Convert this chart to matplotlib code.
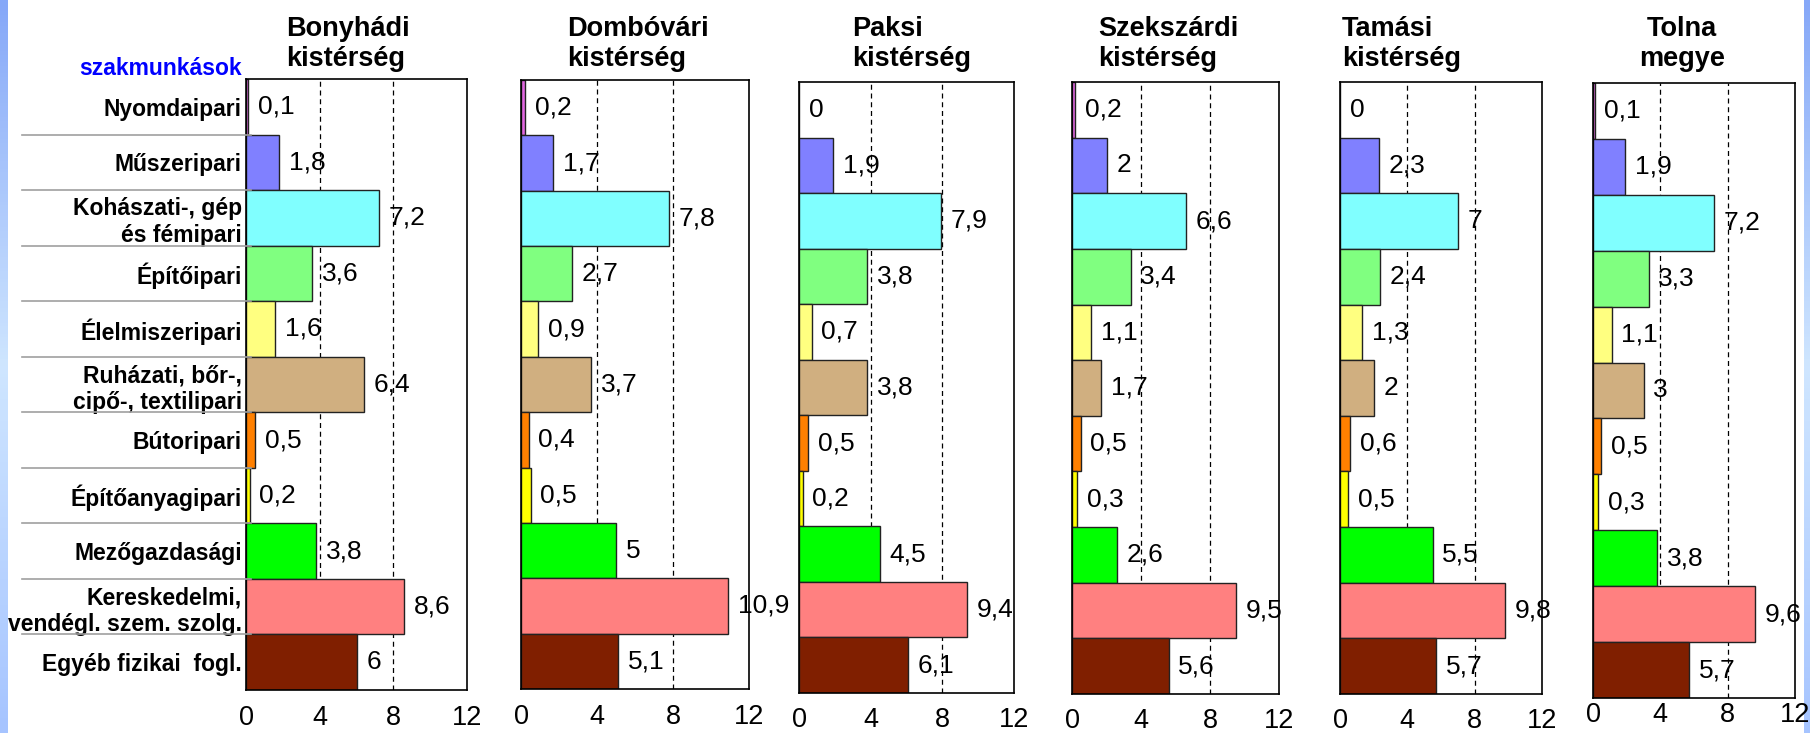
import numpy as np
import matplotlib
matplotlib.use('Agg')
import matplotlib.pyplot as plt
import matplotlib.transforms as mtransforms
from matplotlib.lines import Line2D
from matplotlib.colors import LinearSegmentedColormap

plt.rcParams['font.family'] = ['Liberation Sans', 'DejaVu Sans']

# adatok
categories = ['Nyomdaipari', 'Műszeripari', 'Kohászati-, gép\nés fémipari', 'Építőipari',
              'Élelmiszeripari', 'Ruházati, bőr-,\ncipő-, textilipari', 'Bútoripari',
              'Építőanyagipari', 'Mezőgazdasági', 'Kereskedelmi,\nvendégl. szem. szolg.',
              'Egyéb fizikai  fogl.']
bar_colors = ['#E066E0', '#8080FF', '#80FFFF', '#80FF80', '#FFFF80', '#D0AF80',
              '#FF8000', '#FFFF00', '#00FF00', '#FF8080', '#801F00']

titles = ['Bonyhádi\nkistérség', 'Dombóvári\nkistérség', 'Paksi\nkistérség',
          'Szekszárdi\nkistérség', 'Tamási\nkistérség', 'Tolna\nmegye']
bonyhad = [0.1, 1.8, 7.2, 3.6, 1.6, 6.4, 0.5, 0.2, 3.8, 8.6, 6]
dombovar = [0.2, 1.7, 7.8, 2.7, 0.9, 3.7, 0.4, 0.5, 5, 10.9, 5.1]
paks = [0, 1.9, 7.9, 3.8, 0.7, 3.8, 0.5, 0.2, 4.5, 9.4, 6.1]
szekszard = [0.2, 2, 6.6, 3.4, 1.1, 1.7, 0.5, 0.3, 2.6, 9.5, 5.6]
tamasi = [0, 2.3, 7, 2.4, 1.3, 2, 0.6, 0.5, 5.5, 9.8, 5.7]
tolna = [0.1, 1.9, 7.2, 3.3, 1.1, 3, 0.5, 0.3, 3.8, 9.6, 5.7]
series = [bonyhad, dombovar, paks, szekszard, tamasi, tolna]
xticks = [0, 4, 8, 12]

W, H = 1810, 733
# panel dobozok pixelben: bal, jobb, felso, also
boxes = [(246, 467, 79, 690), (521, 749, 80, 689), (799, 1014, 82, 693),
         (1072, 1279, 82, 694), (1340, 1542, 82, 694), (1593, 1795, 83, 698)]
title_x = [(286, 'left'), (567, 'left'), (852, 'left'), (1098, 'left'),
           (1342, 'left'), (1682, 'center')]
tick_pad = [11, 11, 10, 10, 10, 3]

fig = plt.figure(figsize=(W / 100, H / 100), dpi=100)
fig.patch.set_facecolor('white')

# kek savok a szeleken
grad = LinearSegmentedColormap.from_list('g', ['#86A8F8', '#CFE6FF', '#A6C4FF'])
for x0, w in [(0, 7), (1804, 6)]:
    bax = fig.add_axes([x0 / W, 0, w / W, 1])
    bax.imshow(np.linspace(0, 1, 200).reshape(-1, 1), aspect='auto', cmap=grad)
    bax.axis('off')

y = np.arange(len(categories))
axes = []
for i, (vals, (l, r, t, b)) in enumerate(zip(series, boxes)):
    ax = fig.add_axes([l / W, (H - b) / H, (r - l) / W, (b - t) / H])
    axes.append(ax)
    for xv in (4, 8):
        ax.axvline(xv, color='black', lw=0.9, ls=(0, (4, 3)), zorder=0)
    ax.barh(y, vals, height=1.0, color=bar_colors, edgecolor='#222222', lw=1, zorder=2)
    for yi, v in zip(y, vals):
        ax.annotate(f'{v:g}'.replace('.', ','), (v, yi), xytext=(7, 0),
                    textcoords='offset points', va='center', ha='left',
                    fontsize=19, zorder=3)
    ax.set_xlim(0, 12)
    ax.set_ylim(len(categories) - 0.5, -0.5)
    ax.set_xticks(xticks)
    ax.set_xticklabels([str(t) for t in xticks], fontsize=19.5)
    ax.tick_params(axis='x', length=0, pad=tick_pad[i])
    for s in ax.spines.values():
        s.set_color('black')
        s.set_linewidth(1.2)
    if i == 0:
        ax.set_yticks(y)
        ax.set_yticklabels(categories, fontsize=16.5, fontweight='bold')
        ax.tick_params(axis='y', length=0, pad=3)
    else:
        ax.set_yticks([])
    tx, ha = title_x[i]
    fig.text(tx / W, 1 - 16 / H, titles[i], ha=ha, va='top', fontsize=19.5,
             fontweight='bold', multialignment='center' if ha == 'center' else 'left')

# elvalaszto vonalak a kategoriak kozott
ax0 = axes[0]
tr = mtransforms.blended_transform_factory(fig.transFigure, ax0.transData)
for k in range(len(categories) - 1):
    fig.add_artist(Line2D([22 / W, 251 / W], [k + 0.5, k + 0.5], transform=tr,
                          color='#A0A0A0', lw=1.2))

fig.text(242 / W, 1 - 75 / H, 'szakmunkások', ha='right', va='baseline',
         fontsize=16.5, fontweight='bold', color='#0000FF')

fig.savefig('out.png', dpi=100)
